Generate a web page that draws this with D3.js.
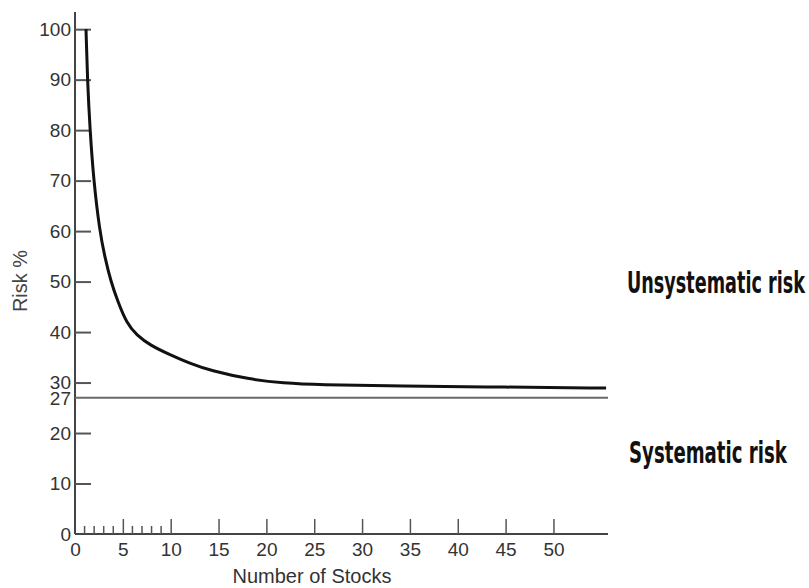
<!DOCTYPE html>
<html>
<head>
<meta charset="utf-8">
<script src="https://cdn.jsdelivr.net/npm/d3@7"></script>
<style>
	html, body { margin: 0; padding: 0; background: #fff; }
	svg { display: block; }
</style>
</head>
<body>
<svg id="chart" width="809" height="588"></svg>
<script>
"use strict"

// number of stocks held vs. portfolio risk
var stocks = [1.15, 1.3, 1.57, 1.95, 2.58, 3.1, 3.75, 4.43, 5.4, 6.45, 7.84, 9.93, 12.0, 14.1, 18.3, 21.8, 25.3, 34, 45, 55.5];
var risk   = [100,  90,  80,   70,   60,   55,  50,   46.3, 41.7, 39.4, 37.4, 35.5, 33.8, 32.4, 30.6, 29.9, 29.55, 29.3, 29.1, 28.9];
var systematicLevel = 27;

var yTickValues = [0, 10, 20, 27, 30, 40, 50, 60, 70, 80, 90, 100];
var xMajorTicks = [0, 5, 10, 15, 20, 25, 30, 35, 40, 45, 50];
var xMinorTicks = [1, 2, 3, 4, 6, 7, 8, 9];

var labelFont = "'Liberation Sans', Arial, Helvetica, sans-serif";
var noteFont = "'Liberation Sans Narrow', 'DejaVu Sans Condensed', 'Arial Narrow', sans-serif";

var svg = d3.select("#chart");

var x = d3.scaleLinear()
	.domain([0, 55.7])
	.range([75, 608])
	;
var y = d3.scaleLinear()
	.domain([0, 103.4])
	.range([534, 12])
	;

// y axis
var yAxis = d3.axisLeft(y)
	.tickValues(yTickValues)
	.tickSize(-16)
	.tickPadding(4)
	.tickFormat(d3.format("d"))
	;
var gy = svg.append("g")
	.attr("transform", "translate(" + x(0) + ",0)")
	.call(yAxis)
	;
gy.select(".domain")
	.attr("d", "M0," + y.range()[1] + "V" + y.range()[0])
	.attr("stroke", "#444")
	.attr("stroke-width", 2)
	;
gy.selectAll(".tick line")
	.attr("stroke", "#555")
	.attr("stroke-width", 2)
	.attr("display", function(d) { return (d == 0 || d == systematicLevel) ? "none" : null; })
	;
gy.selectAll(".tick text")
	.attr("fill", "#333")
	.style("font-family", labelFont)
	.style("font-size", "19px")
	.attr("dy", function(d) { return d == systematicLevel ? "0.37em" : "0.32em"; })
	;

// x axis
var xAxis = d3.axisBottom(x)
	.tickValues(xMajorTicks)
	.tickSize(-15)
	.tickPadding(9)
	;
var gx = svg.append("g")
	.attr("transform", "translate(0," + y(0) + ")")
	.call(xAxis)
	;
gx.select(".domain")
	.attr("d", "M" + x.range()[0] + ",0H" + x.range()[1])
	.attr("stroke", "#444")
	.attr("stroke-width", 2)
	;
gx.selectAll(".tick line")
	.attr("stroke", "#555")
	.attr("stroke-width", 1.5)
	.attr("display", function(d) { return d == 0 ? "none" : null; })
	;
gx.selectAll(".tick text")
	.attr("fill", "#333")
	.style("font-family", labelFont)
	.style("font-size", "19px")
	;
gx.selectAll(".minor")
	.data(xMinorTicks)
	.enter()
	.append("line")
	.attr("class", "minor")
	.attr("x1", function(d) { return x(d); })
	.attr("x2", function(d) { return x(d); })
	.attr("y1", 0)
	.attr("y2", -8)
	.attr("stroke", "#555")
	.attr("stroke-width", 1.5)
	;

// systematic risk floor
svg.append("line")
	.attr("x1", x(0))
	.attr("x2", x.range()[1])
	.attr("y1", y(systematicLevel))
	.attr("y2", y(systematicLevel))
	.attr("stroke", "#6a6a6a")
	.attr("stroke-width", 2)
	;

// risk curve (basis smooths out the reading noise)
var line = d3.line()
	.x(function(d) { return x(d[0]); })
	.y(function(d) { return y(d[1]); })
	.curve(d3.curveBasis)
	;
svg.append("path")
	.datum(d3.zip(stocks, risk))
	.attr("d", line)
	.attr("fill", "none")
	.attr("stroke", "#111")
	.attr("stroke-width", 3)
	;

// axis titles
svg.append("text")
	.attr("transform", "translate(27,281) rotate(-90)")
	.attr("text-anchor", "middle")
	.attr("fill", "#444")
	.style("font-family", labelFont)
	.style("font-size", "20px")
	.text("Risk %")
	;
svg.append("text")
	.attr("x", 312)
	.attr("y", 583)
	.attr("text-anchor", "middle")
	.attr("fill", "#333")
	.style("font-family", labelFont)
	.style("font-size", "20px")
	.text("Number of Stocks")
	;

// right hand notes, squeezed horizontally to the condensed look
function addNote(str, left, base, width) {
	var t = svg.append("text")
		.attr("fill", "#111")
		.style("font-family", noteFont)
		.style("font-weight", "bold")
		.style("font-size", "31px")
		.text(str)
		;
	var sx = width / t.node().getComputedTextLength();
	t.attr("transform", "translate(" + left + "," + base + ") scale(" + sx + ",1)");
}
addNote("Unsystematic risk", 627, 293, 178);
addNote("Systematic risk", 629, 463, 158);
</script>
</body>
</html>
